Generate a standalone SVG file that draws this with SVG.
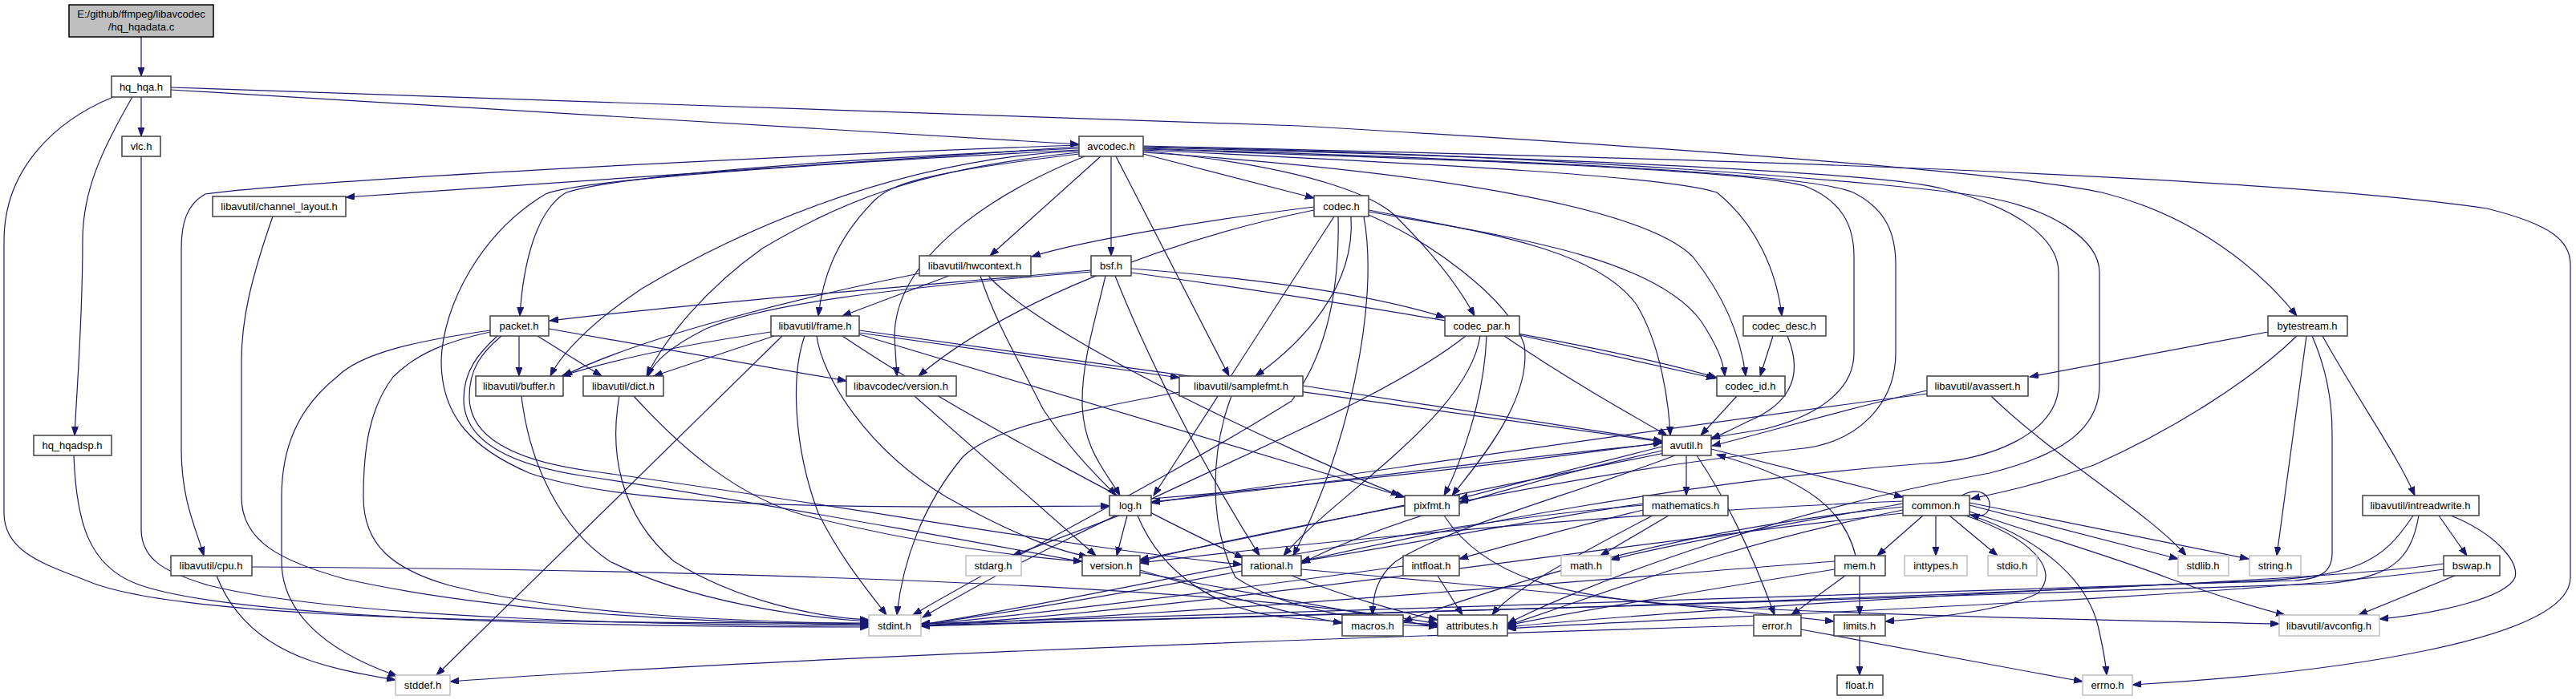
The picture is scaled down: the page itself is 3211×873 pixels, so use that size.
<svg xmlns="http://www.w3.org/2000/svg" width="3211" height="873" viewBox="0 0 3211 873">
<style>
.n rect{fill:#fff;stroke:#404040;stroke-width:1.5}
.g rect{fill:#fff;stroke:#bfbfbf;stroke-width:1.5}
.r rect{fill:#bfbfbf;stroke:#000;stroke-width:1.5}
text{font-family:"Liberation Sans",Arial,sans-serif;font-size:13px;fill:#000;text-anchor:middle}
#edges path{fill:none;stroke:#191970;stroke-width:1.2;marker-end:url(#a)}
</style>
<defs>
<marker id="a" markerUnits="userSpaceOnUse" markerWidth="12" markerHeight="9" refX="11" refY="4" orient="auto"><path d="M0,0 L11,4 L0,8 z" fill="#191970" stroke="#191970" stroke-width="1"/></marker>
</defs>
<rect width="3211" height="873" fill="#fff"/>
<g id="edges">
<path d="M176,46 L176,95"/>
<path d="M176,121 L176,170"/>
<path d="M165,121 C125,190 103,240 103,300 C103,400 96,480 93,543"/>
<path d="M141,121 C70,150 5,210 5,300 L5,640 C5,690 60,705 110,725 C230,775 700,777 1083,777"/>
<path d="M213,112 L1345,180"/>
<path d="M213,109 L1620,157 C2100,185 2500,215 2620,240 C2740,270 2820,340 2863,394"/>
<path d="M176,195 L176,660 C176,700 210,715 260,730 C420,770 800,780 1083,780"/>
<path d="M92,568 C95,650 110,705 170,728 C280,770 700,782 1083,782"/>
<path d="M340,270 C312,350 301,400 301,450 L301,620 C301,675 350,700 430,722 C620,765 900,778 1083,779"/>
<path d="M1345,183 L431,246"/>
<path d="M1345,181 C950,195 380,225 256,242 C232,255 226,280 226,310 L226,560 C226,625 245,660 254,693"/>
<path d="M1345,185 C1000,200 760,222 706,240 C668,262 652,330 648,394"/>
<path d="M1345,188 C1100,200 900,300 800,360 C740,400 700,440 686,469"/>
<path d="M1345,190 C1150,210 1050,250 950,310 C880,360 830,420 806,469"/>
<path d="M1345,192 C1150,215 1110,230 1090,250 C1040,300 1025,350 1020,394"/>
<path d="M1352,195 C1240,240 1115,320 1115,420 L1118,469"/>
<path d="M1372,195 L1234,319"/>
<path d="M1385,195 L1385,319"/>
<path d="M1391,195 L1532,469"/>
<path d="M1425,192 L1638,247"/>
<path d="M1425,188 C1650,210 1720,250 1740,270 C1790,320 1820,360 1838,394"/>
<path d="M1425,187 C1800,205 2080,220 2140,240 C2190,280 2215,340 2221,394"/>
<path d="M1425,190 C1800,215 2050,260 2110,320 C2150,370 2170,420 2176,469"/>
<path d="M1425,186 C1850,200 2180,212 2250,232 C2295,250 2311,280 2311,320 L2311,440 C2311,490 2260,520 2200,535 C2170,540 2150,543 2133,546"/>
<path d="M1425,185 C1900,200 2250,215 2310,240 C2350,260 2363,290 2363,330 L2363,440 C2363,500 2320,553 2240,560 C2100,575 1950,600 1819,626"/>
<path d="M1425,184 C1900,195 2350,215 2420,235 C2520,260 2566,300 2566,340 L2566,480 C2566,540 2480,575 2400,578 C2100,600 1800,660 1622,700"/>
<path d="M1425,183 C1950,192 2380,230 2470,245 C2560,260 2617,300 2617,340 L2617,480 C2617,540 2560,570 2480,590 C2200,640 1950,740 1879,778"/>
<path d="M1425,182 C2000,195 2800,215 3100,260 C3180,280 3204,300 3204,330 L3204,720 C3204,800 2900,840 2658,854"/>
<path d="M1345,187 C1000,205 720,225 680,242 C600,290 552,380 550,450 C550,520 590,560 660,590 C800,640 1150,632 1383,631"/>
<path d="M647,419 L647,469"/>
<path d="M670,419 L750,469"/>
<path d="M684,410 L1055,475"/>
<path d="M611,412 C520,425 450,440 420,470 C370,510 351,560 351,620 L351,700 C351,760 400,810 495,843"/>
<path d="M611,414 C560,425 520,440 490,470 C460,510 453,560 453,620 C453,680 490,710 560,730 C700,765 900,775 1083,778"/>
<path d="M625,419 C600,440 585,460 585,495 C585,545 640,575 740,588 C1050,630 1350,685 1548,704"/>
<path d="M620,419 C597,440 578,462 578,498 C578,550 635,580 730,594 C1100,650 1550,740 1792,782"/>
<path d="M961,414 C850,430 760,450 700,469"/>
<path d="M965,419 L815,469"/>
<path d="M1018,419 C1025,470 1080,560 1180,620 C1260,665 1320,688 1356,694"/>
<path d="M975,419 L544,842"/>
<path d="M1003,419 C985,470 990,560 1020,640 C1050,700 1085,740 1105,767"/>
<path d="M1071,412 L2072,551"/>
<path d="M1071,415 L1470,471"/>
<path d="M1071,417 L1751,620"/>
<path d="M1050,419 C1200,520 1450,650 1550,696"/>
<path d="M1146,341 C1000,370 800,420 702,469"/>
<path d="M1183,344 L1050,394"/>
<path d="M1222,344 C1240,400 1270,450 1300,510 C1340,570 1375,600 1391,618"/>
<path d="M1232,344 C1300,420 1600,560 1745,618"/>
<path d="M1378,344 C1365,400 1349,450 1349,500 C1349,560 1380,590 1396,618"/>
<path d="M1390,344 C1420,420 1480,550 1570,693"/>
<path d="M1360,337 C1100,360 850,380 685,400"/>
<path d="M1360,339 C1100,360 950,380 880,410 C840,430 815,450 808,469"/>
<path d="M1410,335 C1600,350 1720,370 1801,396"/>
<path d="M1410,340 C1700,380 2000,430 2140,471"/>
<path d="M1638,258 C1500,275 1350,300 1286,320"/>
<path d="M1638,262 C1450,300 1250,380 1145,469"/>
<path d="M1663,270 L1438,618"/>
<path d="M1668,270 C1670,360 1655,440 1610,500 C1450,600 1250,700 1138,767"/>
<path d="M1684,270 C1690,360 1620,430 1565,469"/>
<path d="M1700,270 C1720,380 1680,560 1612,693"/>
<path d="M1706,262 C1850,290 1990,310 2040,380 C2070,430 2080,500 2082,543"/>
<path d="M1706,264 C1880,295 2060,320 2120,400 C2140,430 2148,450 2150,469"/>
<path d="M1706,268 C1780,300 1880,370 1900,430 C1910,500 1840,580 1810,618"/>
<path d="M1827,419 C1700,520 1400,620 1150,770"/>
<path d="M1845,419 C1830,520 1660,620 1600,693"/>
<path d="M1853,419 C1850,500 1820,580 1800,618"/>
<path d="M1875,419 C1950,470 2020,510 2078,543"/>
<path d="M1894,418 L2138,472"/>
<path d="M2210,419 L2194,469"/>
<path d="M2228,419 C2245,460 2240,500 2180,525 C2160,535 2145,542 2133,548"/>
<path d="M2165,494 L2120,543"/>
<path d="M2827,414 L2530,470"/>
<path d="M2863,419 C2800,480 2700,540 2610,580 C2540,605 2490,615 2457,622"/>
<path d="M2875,419 L2838,693"/>
<path d="M2882,419 C2900,460 2907,500 2907,540 L2907,690 C2907,715 2890,722 2860,724 C2400,740 1500,765 1148,778"/>
<path d="M2895,419 C2940,500 2990,570 3010,618"/>
<path d="M2482,494 C2560,570 2680,640 2725,693"/>
<path d="M2402,487 C2300,510 2200,540 2134,556"/>
<path d="M2402,491 C2100,530 1700,590 1435,627"/>
<path d="M3040,643 L3075,693"/>
<path d="M3055,643 C3110,665 3140,700 3135,720 C3125,745 3040,765 2966,772"/>
<path d="M3008,643 C2970,700 2940,720 2800,725 C2400,740 2000,770 1879,782"/>
<path d="M3015,643 C3005,700 2980,720 2900,728 C2400,745 1600,770 1148,780"/>
<path d="M3060,718 L2940,767"/>
<path d="M3046,703 C2800,740 1500,770 1148,781"/>
<path d="M3046,710 C2800,745 2100,770 1879,784"/>
<path d="M2445,618 C2470,605 2481,620 2480,630 C2479,642 2470,646 2456,642"/>
<path d="M2413,643 L2413,693"/>
<path d="M2430,643 L2490,693"/>
<path d="M2455,630 L2715,697"/>
<path d="M2455,627 L2803,697"/>
<path d="M2455,638 C2550,670 2650,700 2700,720 C2770,745 2820,760 2848,767"/>
<path d="M2452,641 C2540,670 2600,720 2615,780 C2622,810 2625,830 2626,842"/>
<path d="M2450,643 C2530,670 2570,710 2540,740 C2500,760 2420,770 2350,775"/>
<path d="M2397,643 L2340,693"/>
<path d="M2372,628 C2250,650 2100,675 2008,698"/>
<path d="M2372,625 C2000,640 1600,680 1421,702"/>
<path d="M2372,632 C2100,660 1900,720 1749,775"/>
<path d="M2372,636 C2150,680 2000,740 1879,780"/>
<path d="M2372,640 C2000,680 1500,760 1148,780"/>
<path d="M2133,560 L2372,620"/>
<path d="M2102,568 L2102,618"/>
<path d="M2115,568 C2150,620 2180,680 2212,767"/>
<path d="M2075,565 C1900,600 1600,660 1421,698"/>
<path d="M2088,568 C1950,620 1800,660 1740,700 C1715,720 1711,745 1711,767"/>
<path d="M2072,562 C1900,600 1700,660 1622,703"/>
<path d="M2072,553 C1800,580 1600,610 1435,626"/>
<path d="M2072,557 C1980,580 1900,600 1819,622"/>
<path d="M1395,643 L1262,693"/>
<path d="M1405,643 L1392,693"/>
<path d="M1435,622 C1700,600 1900,575 2072,552"/>
<path d="M1418,643 C1450,720 1520,760 1600,770 C1700,778 1750,780 1792,781"/>
<path d="M1751,631 C1650,650 1500,680 1421,700"/>
<path d="M1800,643 C1850,720 1950,745 2100,755 C2400,770 2700,775 2841,778"/>
<path d="M1548,712 C1400,740 1250,765 1148,779"/>
<path d="M1622,710 C1900,735 2150,760 2286,775"/>
<path d="M1610,718 C1680,745 1750,765 1792,773"/>
<path d="M2048,630 C1700,660 1400,740 1148,779"/>
<path d="M2080,643 L1995,693"/>
<path d="M2060,643 C1950,700 1880,740 1860,767"/>
<path d="M2048,628 C1900,650 1750,680 1622,700"/>
<path d="M2048,636 C1950,660 1880,680 1819,697"/>
<path d="M1749,706 C1500,740 1300,765 1148,779"/>
<path d="M1792,718 L1823,767"/>
<path d="M2318,718 L2318,767"/>
<path d="M2300,718 L2233,767"/>
<path d="M2313,693 C2300,640 2260,600 2140,567"/>
<path d="M2287,700 C1900,730 1500,765 1148,780"/>
<path d="M2287,710 C2100,740 1950,765 1879,780"/>
<path d="M2186,780 C1500,800 900,825 561,850"/>
<path d="M2245,785 L2596,850"/>
<path d="M2318,793 L2318,842"/>
<path d="M1421,711 C1520,740 1600,765 1673,777"/>
<path d="M772,494 C760,560 770,640 840,700 C920,750 1020,770 1083,773"/>
<path d="M790,494 C850,560 920,620 1004,643 C1150,680 1280,695 1349,700"/>
<path d="M650,494 C660,580 700,660 760,700 C860,750 1000,770 1083,775"/>
<path d="M1140,494 L1366,693"/>
<path d="M1470,489 C1300,520 1230,540 1200,570 C1150,630 1125,700 1118,767"/>
<path d="M1624,481 L2072,550"/>
<path d="M1535,494 C1510,560 1505,650 1540,720 C1600,760 1700,775 1792,779"/>
<path d="M270,718 C290,770 330,805 390,825 C430,838 465,843 493,848"/>
<path d="M314,707 C800,710 1500,725 1792,778"/>
</g>
<g id="n_root" class="r"><rect x="86" y="6" width="180" height="40"/><text x="176" y="22">E:/github/ffmpeg/libavcodec</text><text x="176" y="38">/hq_hqadata.c</text></g>
<g id="n_hq_hqa" class="n"><rect x="139" y="95" width="74" height="26"/><text x="176" y="113">hq_hqa.h</text></g>
<g id="n_vlc" class="n"><rect x="152" y="170" width="48" height="25"/><text x="176" y="187">vlc.h</text></g>
<g id="n_channel_layout" class="n"><rect x="265" y="245" width="166" height="25"/><text x="348" y="262">libavutil/channel_layout.h</text></g>
<g id="n_packet" class="n"><rect x="611" y="394" width="73" height="25"/><text x="647" y="411">packet.h</text></g>
<g id="n_avcodec" class="n"><rect x="1345" y="170" width="80" height="25"/><text x="1385" y="187">avcodec.h</text></g>
<g id="n_hwcontext" class="n"><rect x="1146" y="319" width="139" height="25"/><text x="1215" y="336">libavutil/hwcontext.h</text></g>
<g id="n_bsf" class="n"><rect x="1360" y="319" width="50" height="25"/><text x="1385" y="336">bsf.h</text></g>
<g id="n_frame" class="n"><rect x="961" y="394" width="110" height="25"/><text x="1016" y="411">libavutil/frame.h</text></g>
<g id="n_codec" class="n"><rect x="1638" y="244" width="68" height="26"/><text x="1672" y="262">codec.h</text></g>
<g id="n_codec_par" class="n"><rect x="1801" y="394" width="93" height="25"/><text x="1847" y="411">codec_par.h</text></g>
<g id="n_codec_desc" class="n"><rect x="2173" y="394" width="103" height="25"/><text x="2224" y="411">codec_desc.h</text></g>
<g id="n_bytestream" class="n"><rect x="2827" y="394" width="99" height="25"/><text x="2876" y="411">bytestream.h</text></g>
<g id="n_buffer" class="n"><rect x="593" y="469" width="109" height="25"/><text x="647" y="486">libavutil/buffer.h</text></g>
<g id="n_dict" class="n"><rect x="727" y="469" width="100" height="25"/><text x="777" y="486">libavutil/dict.h</text></g>
<g id="n_hq_hqadsp" class="n"><rect x="42" y="543" width="97" height="25"/><text x="90" y="560">hq_hqadsp.h</text></g>
<g id="n_cpu" class="n"><rect x="213" y="693" width="101" height="25"/><text x="263" y="710">libavutil/cpu.h</text></g>
<g id="n_stddef" class="g"><rect x="493" y="842" width="68" height="25"/><text x="527" y="859">stddef.h</text></g>
<g id="n_avc_version" class="n"><rect x="1055" y="469" width="137" height="25"/><text x="1123" y="486">libavcodec/version.h</text></g>
<g id="n_samplefmt" class="n"><rect x="1470" y="469" width="154" height="25"/><text x="1547" y="486">libavutil/samplefmt.h</text></g>
<g id="n_log" class="n"><rect x="1383" y="618" width="52" height="25"/><text x="1409" y="635">log.h</text></g>
<g id="n_stdarg" class="g"><rect x="1204" y="693" width="69" height="25"/><text x="1238" y="710">stdarg.h</text></g>
<g id="n_version" class="n"><rect x="1349" y="693" width="72" height="25"/><text x="1385" y="710">version.h</text></g>
<g id="n_rational" class="n"><rect x="1548" y="693" width="74" height="25"/><text x="1585" y="710">rational.h</text></g>
<g id="n_stdint" class="g"><rect x="1083" y="767" width="65" height="26"/><text x="1115" y="785">stdint.h</text></g>
<g id="n_codec_id" class="n"><rect x="2140" y="469" width="85" height="25"/><text x="2182" y="486">codec_id.h</text></g>
<g id="n_avutil" class="n"><rect x="2072" y="543" width="61" height="25"/><text x="2102" y="560">avutil.h</text></g>
<g id="n_pixfmt" class="n"><rect x="1751" y="618" width="68" height="25"/><text x="1785" y="635">pixfmt.h</text></g>
<g id="n_mathematics" class="n"><rect x="2048" y="618" width="106" height="25"/><text x="2101" y="635">mathematics.h</text></g>
<g id="n_common" class="n"><rect x="2372" y="618" width="83" height="25"/><text x="2413" y="635">common.h</text></g>
<g id="n_intfloat" class="n"><rect x="1749" y="693" width="70" height="25"/><text x="1784" y="710">intfloat.h</text></g>
<g id="n_math" class="g"><rect x="1946" y="693" width="62" height="25"/><text x="1977" y="710">math.h</text></g>
<g id="n_mem" class="n"><rect x="2287" y="693" width="63" height="25"/><text x="2318" y="710">mem.h</text></g>
<g id="n_inttypes" class="g"><rect x="2374" y="693" width="78" height="25"/><text x="2413" y="710">inttypes.h</text></g>
<g id="n_macros" class="n"><rect x="1673" y="767" width="76" height="26"/><text x="1711" y="785">macros.h</text></g>
<g id="n_attributes" class="n"><rect x="1792" y="767" width="87" height="26"/><text x="1835" y="785">attributes.h</text></g>
<g id="n_error" class="n"><rect x="2186" y="767" width="59" height="26"/><text x="2215" y="785">error.h</text></g>
<g id="n_limits" class="n"><rect x="2286" y="767" width="64" height="26"/><text x="2318" y="785">limits.h</text></g>
<g id="n_float" class="n"><rect x="2290" y="842" width="57" height="25"/><text x="2318" y="859">float.h</text></g>
<g id="n_avassert" class="n"><rect x="2402" y="469" width="126" height="25"/><text x="2465" y="486">libavutil/avassert.h</text></g>
<g id="n_intreadwrite" class="n"><rect x="2945" y="618" width="145" height="25"/><text x="3017" y="635">libavutil/intreadwrite.h</text></g>
<g id="n_stdio" class="g"><rect x="2478" y="693" width="61" height="25"/><text x="2508" y="710">stdio.h</text></g>
<g id="n_stdlib" class="g"><rect x="2715" y="693" width="63" height="25"/><text x="2746" y="710">stdlib.h</text></g>
<g id="n_string" class="g"><rect x="2804" y="693" width="64" height="25"/><text x="2836" y="710">string.h</text></g>
<g id="n_bswap" class="n"><rect x="3046" y="693" width="70" height="25"/><text x="3081" y="710">bswap.h</text></g>
<g id="n_avconfig" class="g"><rect x="2841" y="767" width="125" height="26"/><text x="2903" y="785">libavutil/avconfig.h</text></g>
<g id="n_errno" class="g"><rect x="2596" y="842" width="62" height="25"/><text x="2627" y="859">errno.h</text></g>
</svg>
